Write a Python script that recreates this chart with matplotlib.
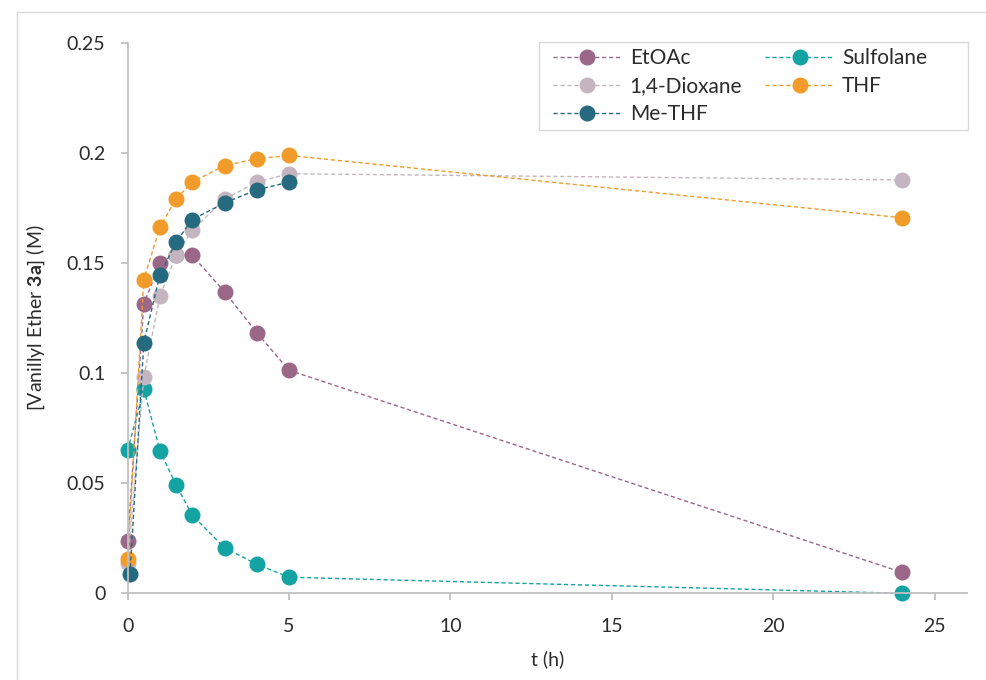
import matplotlib
matplotlib.use("Agg")
import matplotlib.pyplot as plt
from matplotlib.lines import Line2D
from matplotlib.patches import Rectangle

plt.rcParams['font.family'] = ['Lato', 'DejaVu Sans']
plt.rcParams['mathtext.fontset'] = 'custom'
plt.rcParams['mathtext.rm'] = 'Lato'
plt.rcParams['mathtext.bf'] = 'Lato:bold'

# time points (h)
t_main = [0, 0.5, 1, 1.5, 2, 3, 4, 5, 24]
t_methf = [0.07, 0.5, 1, 1.5, 2, 3, 4, 5]

etoac = [0.0237, 0.1316, 0.150, 0.1535, 0.1535, 0.137, 0.1184, 0.1013, 0.0095]
sulfolane = [0.065, 0.0926, 0.0647, 0.0492, 0.0355, 0.0207, 0.0132, 0.0073, 0.0]
dioxane = [0.0136, 0.0983, 0.135, 0.1535, 0.165, 0.179, 0.1868, 0.1906, 0.1878]
thf = [0.0154, 0.1425, 0.1664, 0.1792, 0.1868, 0.1943, 0.1974, 0.1989, 0.1706]
methf = [0.0086, 0.1139, 0.1447, 0.1596, 0.1698, 0.1773, 0.1833, 0.1868]

labels = ["EtOAc", "Sulfolane", "1,4-Dioxane", "THF", "Me-THF"]
colors = ["#9A6788", "#14A3A3", "#C4B5C0", "#F09B2A", "#266A80"]

xticks = [0, 5, 10, 15, 20, 25]
yticks = [0, 0.05, 0.1, 0.15, 0.2, 0.25]
yticklabels = ["0", "0.05", "0.1", "0.15", "0.2", "0.25"]

text_c = "#2b2b2b"

fig = plt.figure(figsize=(9.86, 6.8), dpi=100)
ax = fig.add_axes([0.1295, 0.1275, 0.851, 0.8093])

# outer chart frame
frame_c = "#D9D9D9"
fig.add_artist(Line2D([17/986, 17/986], [0, 1 - 12/680], transform=fig.transFigure, color=frame_c, lw=1))
fig.add_artist(Line2D([17/986, 1], [1 - 12/680, 1 - 12/680], transform=fig.transFigure, color=frame_c, lw=1))

series = [(t_main, etoac), (t_main, sulfolane), (t_main, dioxane), (t_main, thf), (t_methf, methf)]
handles = []
for (tx, vals), lab, c in zip(series, labels, colors):
    h, = ax.plot(tx, vals, linestyle=(0, (3, 2)), lw=1, color=c, marker='o',
                 markersize=11.5, markeredgewidth=0, label=lab, clip_on=False)
    handles.append(h)

ax.set_xlim(0, 26)
ax.set_ylim(0, 0.25)
ax.set_xticks(xticks)
ax.set_yticks(yticks)
ax.set_yticklabels(yticklabels)

for s in ["top", "right"]:
    ax.spines[s].set_visible(False)
for s in ["left", "bottom"]:
    ax.spines[s].set_color("#BFBFBF")
    ax.spines[s].set_linewidth(1.3)
ax.tick_params(axis='both', colors="#BFBFBF", labelcolor=text_c, labelsize=14, length=5, width=1.3)
ax.tick_params(axis='y', pad=11)
ax.tick_params(axis='x', pad=13)

ax.set_xlabel("t (h)", fontsize=14, color=text_c, labelpad=11)
ax.set_ylabel(r"[Vanillyl Ether $\mathbf{3a}$] (M)", fontsize=14, color=text_c, labelpad=14)

# legend box drawn separately (Excel leaves extra room on the right)
ax.add_patch(Rectangle((0.490, 0.842), 1.0015 - 0.490, 1.0018 - 0.842, transform=ax.transAxes,
                       facecolor="white", edgecolor="#D9D9D9", lw=1, clip_on=False, zorder=4))

# legend filled row-wise like the original
order = [0, 2, 4, 1, 3]
leg = ax.legend([handles[i] for i in order], [labels[i] for i in order],
                ncol=2, loc='upper left', bbox_to_anchor=(0.499, 1.0018), fontsize=15,
                handlelength=3.3, numpoints=1, frameon=False,
                borderpad=0.3, labelspacing=0.38, columnspacing=1.1, handletextpad=0.4,
                borderaxespad=0)
leg.set_zorder(5)
for txt in leg.get_texts():
    txt.set_color(text_c)

fig.savefig("out.png", dpi=100)
